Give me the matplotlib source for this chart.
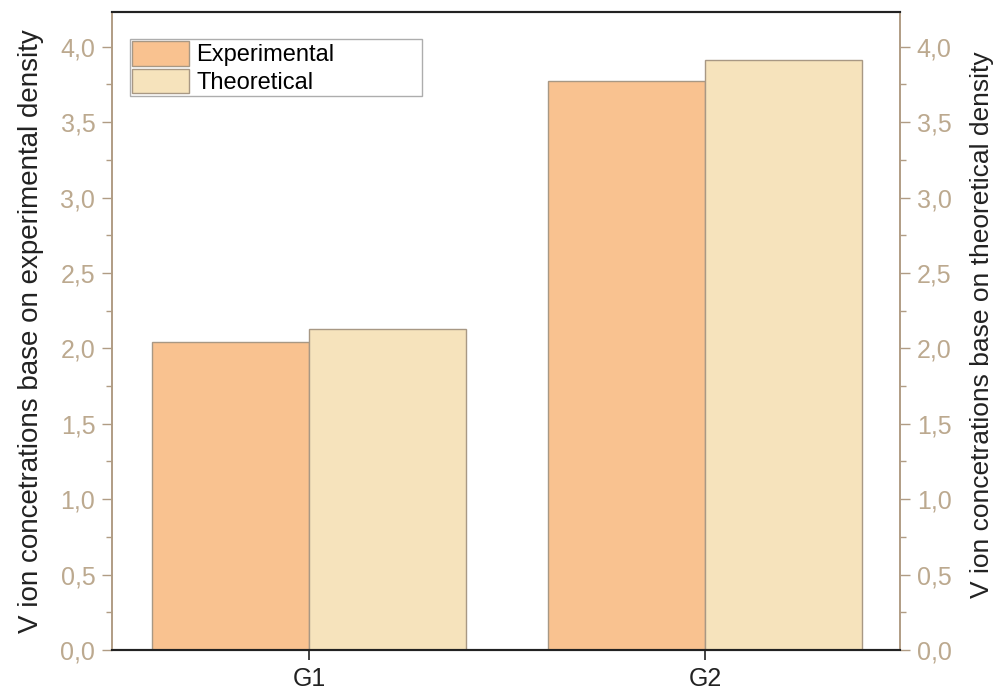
import matplotlib
matplotlib.use("Agg")
import matplotlib.pyplot as plt
from matplotlib.ticker import MultipleLocator, FuncFormatter

plt.rcParams['font.family'] = ['Liberation Sans', 'DejaVu Sans']

categories = ["G1", "G2"]
experimental = [2.04, 3.77]
theoretical = [2.13, 3.91]

c_exp = "#F9C290"
c_theo = "#F6E3BC"
edge = "#A89884"
tick_col = "#BCA98F"
spine_col = "#B09C84"

fig = plt.figure(figsize=(9.99, 6.96), dpi=100)
ax = fig.add_axes([112/999, 1-650/696, (900-112)/999, (650-12)/696])

x = list(range(len(categories)))
w = 0.397
ax.bar([i - w/2 for i in x], experimental, w, color=c_exp, edgecolor=edge, linewidth=1.0, label="Experimental")
ax.bar([i + w/2 for i in x], theoretical, w, color=c_theo, edgecolor=edge, linewidth=1.0, label="Theoretical")

ax.set_xlim(-0.497, 1.492)
ax.set_ylim(0, 4.23)
ax.set_xticks(x)
ax.set_xticklabels(categories, fontsize=18, color="#222222")

fmt = FuncFormatter(lambda v, p: f"{v:.1f}".replace(".", ","))
ax.yaxis.set_major_locator(MultipleLocator(0.5))
ax.yaxis.set_minor_locator(MultipleLocator(0.25))
ax.yaxis.set_major_formatter(fmt)
ax.tick_params(axis='y', which='major', length=7, width=1, colors=spine_col, labelcolor=tick_col, labelsize=18, direction='out', pad=5)
ax.tick_params(axis='y', which='minor', length=4, width=1, colors=spine_col, direction='out')
ax.tick_params(axis='x', which='major', length=7, width=1.2, colors="#222222", labelsize=18, direction='out', pad=5)
ax.set_ylabel("V ion concetrations base on experimental density", fontsize=20, color="#222222", labelpad=12)

ax2 = ax.twinx()
ax2.set_ylim(0, 4.23)
ax2.yaxis.set_major_locator(MultipleLocator(0.5))
ax2.yaxis.set_minor_locator(MultipleLocator(0.25))
ax2.yaxis.set_major_formatter(fmt)
ax2.tick_params(axis='y', which='major', length=7, width=1, colors=spine_col, labelcolor=tick_col, labelsize=18, direction='out', pad=5)
ax2.tick_params(axis='y', which='minor', length=4, width=1, colors=spine_col, direction='out')
ax2.set_ylabel("V ion concetrations base on theoretical density", fontsize=19, color="#222222")
ax2.yaxis.set_label_coords(1.0 + 70/788, 0.51)

for a in (ax, ax2):
    a.spines['left'].set_color(spine_col)
    a.spines['right'].set_color(spine_col)
    a.spines['left'].set_linewidth(1.2)
    a.spines['right'].set_linewidth(1.2)
    a.spines['top'].set_color("#222222")
    a.spines['bottom'].set_color("#222222")
    a.spines['top'].set_linewidth(1.5)
    a.spines['bottom'].set_linewidth(1.5)

leg = ax.legend(loc='upper left', bbox_to_anchor=(18/788, 1-85/638, (422-130)/788, 58/638), mode='expand',
                fontsize=17, frameon=True, fancybox=False, edgecolor="#999999",
                handlelength=2.4, handleheight=1.2, handletextpad=0.3,
                borderpad=0.1, labelspacing=0.1, borderaxespad=0)
leg.get_frame().set_linewidth(1.0)

fig.savefig("out.png", dpi=100)
